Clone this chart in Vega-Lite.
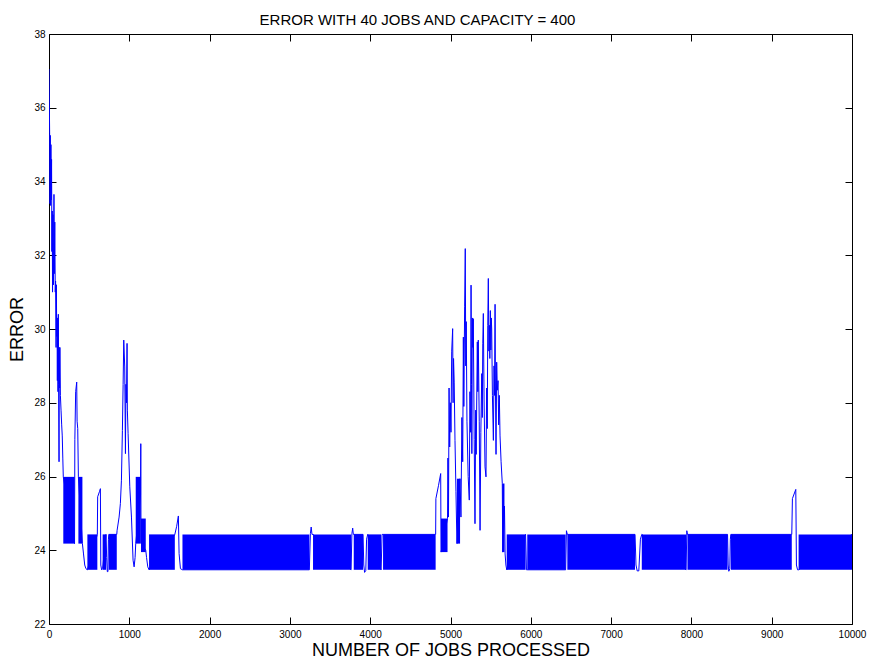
{
  "$schema": "https://vega.github.io/schema/vega-lite/v6.json",
  "autosize": {"type": "none"},
  "padding": {"left": 49, "top": 34, "right": 18, "bottom": 40},
  "width": 803,
  "height": 590,
  "background": "white",
  "title": {
    "text": "ERROR WITH 40 JOBS AND CAPACITY = 400",
    "font": "Liberation Sans",
    "fontSize": 15,
    "fontWeight": "normal",
    "color": "#000",
    "anchor": "middle",
    "dx": -33,
    "offset": 1
  },
  "config": {
    "view": {"stroke": null},
    "axis": {
      "grid": false,
      "domainColor": "#000",
      "domainWidth": 1,
      "tickColor": "#000",
      "tickWidth": 1,
      "tickSize": -7,
      "labelFont": "Liberation Sans",
      "labelFontSize": 10,
      "labelColor": "#000",
      "labelFlush": false,
      "labelOverlap": false,
      "titleFont": "Liberation Sans",
      "titleFontSize": 18,
      "titleFontWeight": "normal",
      "titleColor": "#000"
    }
  },
  "datasets": {
    "bands": [
      {"from": 178, "to": 318, "low": 24.18, "high": 25.99},
      {"from": 366, "to": 416, "low": 24.18, "high": 25.99},
      {"from": 478, "to": 602, "low": 23.47, "high": 24.43},
      {"from": 668, "to": 711, "low": 23.47, "high": 24.43},
      {"from": 745, "to": 844, "low": 23.47, "high": 24.43},
      {"from": 1080, "to": 1143, "low": 24.18, "high": 25.99},
      {"from": 1146, "to": 1205, "low": 23.95, "high": 24.86},
      {"from": 1246, "to": 1567, "low": 23.47, "high": 24.43},
      {"from": 1662, "to": 3242, "low": 23.47, "high": 24.43},
      {"from": 3288, "to": 3762, "low": 23.47, "high": 24.43},
      {"from": 3795, "to": 3911, "low": 23.47, "high": 24.43},
      {"from": 3969, "to": 4136, "low": 23.47, "high": 24.43},
      {"from": 4160, "to": 4815, "low": 23.47, "high": 24.43},
      {"from": 4882, "to": 4963, "low": 23.95, "high": 24.86},
      {"from": 5080, "to": 5119, "low": 24.18, "high": 25.94},
      {"from": 5645, "to": 5672, "low": 23.95, "high": 25.81},
      {"from": 5700, "to": 5935, "low": 23.47, "high": 24.43},
      {"from": 5956, "to": 6434, "low": 23.47, "high": 24.43},
      {"from": 6455, "to": 7298, "low": 23.47, "high": 24.43},
      {"from": 7382, "to": 7934, "low": 23.47, "high": 24.43},
      {"from": 7951, "to": 8450, "low": 23.47, "high": 24.43},
      {"from": 8491, "to": 9250, "low": 23.47, "high": 24.43},
      {"from": 9335, "to": 10000, "low": 23.47, "high": 24.43}
    ],
    "trace": [
      {"jobs": 0, "error": 37.05}, {"jobs": 8, "error": 35.29}, {"jobs": 12, "error": 33.4},
      {"jobs": 16, "error": 35.25}, {"jobs": 20, "error": 33.35}, {"jobs": 24, "error": 35.0},
      {"jobs": 28, "error": 33.5}, {"jobs": 32, "error": 34.6}, {"jobs": 36, "error": 32.1},
      {"jobs": 40, "error": 33.2}, {"jobs": 44, "error": 31.0}, {"jobs": 50, "error": 33.1},
      {"jobs": 56, "error": 31.2}, {"jobs": 62, "error": 33.65}, {"jobs": 66, "error": 31.5},
      {"jobs": 72, "error": 32.9}, {"jobs": 78, "error": 31.0}, {"jobs": 82, "error": 31.3},
      {"jobs": 88, "error": 29.5}, {"jobs": 92, "error": 31.2}, {"jobs": 96, "error": 29.8},
      {"jobs": 100, "error": 30.3}, {"jobs": 104, "error": 28.6}, {"jobs": 108, "error": 30.3},
      {"jobs": 112, "error": 28.3}, {"jobs": 116, "error": 30.4}, {"jobs": 120, "error": 28.5},
      {"jobs": 125, "error": 26.4}, {"jobs": 128, "error": 29.5}, {"jobs": 132, "error": 28.4},
      {"jobs": 136, "error": 29.5}, {"jobs": 142, "error": 28.2}, {"jobs": 150, "error": 27.8},
      {"jobs": 158, "error": 27.4}, {"jobs": 165, "error": 27.1}, {"jobs": 172, "error": 26.5},
      {"jobs": 178, "error": 25.99}, {"jobs": 318, "error": 24.18}, {"jobs": 322, "error": 27.0},
      {"jobs": 332, "error": 28.3}, {"jobs": 345, "error": 28.56}, {"jobs": 350, "error": 27.5},
      {"jobs": 358, "error": 27.3}, {"jobs": 366, "error": 25.99}, {"jobs": 416, "error": 24.18},
      {"jobs": 430, "error": 23.9}, {"jobs": 445, "error": 23.6}, {"jobs": 460, "error": 23.5},
      {"jobs": 478, "error": 23.47}, {"jobs": 602, "error": 24.43}, {"jobs": 606, "error": 25.45},
      {"jobs": 630, "error": 25.6}, {"jobs": 640, "error": 25.67}, {"jobs": 645, "error": 23.6},
      {"jobs": 655, "error": 23.47}, {"jobs": 668, "error": 23.5}, {"jobs": 711, "error": 24.43},
      {"jobs": 718, "error": 23.8}, {"jobs": 726, "error": 23.42}, {"jobs": 734, "error": 23.42},
      {"jobs": 740, "error": 24.3}, {"jobs": 745, "error": 24.43}, {"jobs": 844, "error": 24.43},
      {"jobs": 848, "error": 24.54}, {"jobs": 873, "error": 24.9}, {"jobs": 889, "error": 25.27},
      {"jobs": 902, "error": 25.9}, {"jobs": 914, "error": 27.25}, {"jobs": 923, "error": 28.5},
      {"jobs": 931, "error": 29.7}, {"jobs": 943, "error": 28.97}, {"jobs": 952, "error": 26.62},
      {"jobs": 958, "error": 28.5}, {"jobs": 965, "error": 28.0}, {"jobs": 972, "error": 29.61},
      {"jobs": 976, "error": 27.8}, {"jobs": 985, "error": 27.16}, {"jobs": 1006, "error": 25.72},
      {"jobs": 1027, "error": 24.9}, {"jobs": 1047, "error": 23.73}, {"jobs": 1060, "error": 23.55},
      {"jobs": 1072, "error": 23.8}, {"jobs": 1080, "error": 24.18}, {"jobs": 1140, "error": 25.5},
      {"jobs": 1143, "error": 26.89}, {"jobs": 1146, "error": 24.2}, {"jobs": 1205, "error": 24.0},
      {"jobs": 1215, "error": 23.8}, {"jobs": 1230, "error": 23.55}, {"jobs": 1246, "error": 23.47},
      {"jobs": 1567, "error": 24.43}, {"jobs": 1590, "error": 24.65}, {"jobs": 1611, "error": 24.93},
      {"jobs": 1620, "error": 23.91}, {"jobs": 1637, "error": 23.5}, {"jobs": 1662, "error": 23.47},
      {"jobs": 3242, "error": 23.47}, {"jobs": 3255, "error": 24.45}, {"jobs": 3265, "error": 24.63},
      {"jobs": 3275, "error": 24.43}, {"jobs": 3288, "error": 24.43}, {"jobs": 3762, "error": 23.47},
      {"jobs": 3772, "error": 24.45}, {"jobs": 3782, "error": 24.6}, {"jobs": 3790, "error": 24.43},
      {"jobs": 3795, "error": 24.43}, {"jobs": 3911, "error": 24.43}, {"jobs": 3920, "error": 23.6},
      {"jobs": 3930, "error": 23.4}, {"jobs": 3945, "error": 23.45}, {"jobs": 3955, "error": 24.3},
      {"jobs": 3969, "error": 24.43}, {"jobs": 4136, "error": 23.47}, {"jobs": 4148, "error": 24.43},
      {"jobs": 4160, "error": 24.43}, {"jobs": 4815, "error": 24.43}, {"jobs": 4818, "error": 25.4},
      {"jobs": 4850, "error": 25.75}, {"jobs": 4878, "error": 26.08}, {"jobs": 4882, "error": 23.95},
      {"jobs": 4963, "error": 24.86}, {"jobs": 4968, "error": 26.5}, {"jobs": 4975, "error": 24.9},
      {"jobs": 4982, "error": 28.4}, {"jobs": 4990, "error": 26.8}, {"jobs": 4998, "error": 28.0},
      {"jobs": 5006, "error": 27.2}, {"jobs": 5015, "error": 29.4}, {"jobs": 5027, "error": 30.01},
      {"jobs": 5032, "error": 28.0}, {"jobs": 5038, "error": 29.2}, {"jobs": 5046, "error": 28.56},
      {"jobs": 5056, "error": 26.98}, {"jobs": 5068, "error": 25.6}, {"jobs": 5080, "error": 24.18},
      {"jobs": 5119, "error": 25.94}, {"jobs": 5130, "error": 24.9}, {"jobs": 5142, "error": 27.6},
      {"jobs": 5152, "error": 26.4}, {"jobs": 5160, "error": 29.78}, {"jobs": 5166, "error": 27.9},
      {"jobs": 5176, "error": 30.6}, {"jobs": 5184, "error": 32.18}, {"jobs": 5190, "error": 29.0},
      {"jobs": 5196, "error": 30.2}, {"jobs": 5205, "error": 27.5}, {"jobs": 5220, "error": 26.0},
      {"jobs": 5234, "error": 25.36}, {"jobs": 5242, "error": 28.3}, {"jobs": 5250, "error": 27.2},
      {"jobs": 5256, "error": 31.19}, {"jobs": 5262, "error": 28.5}, {"jobs": 5266, "error": 26.62},
      {"jobs": 5272, "error": 30.3}, {"jobs": 5278, "error": 29.5}, {"jobs": 5284, "error": 30.28},
      {"jobs": 5295, "error": 27.0}, {"jobs": 5305, "error": 24.72}, {"jobs": 5314, "error": 27.8},
      {"jobs": 5320, "error": 26.6}, {"jobs": 5334, "error": 29.65}, {"jobs": 5340, "error": 28.3},
      {"jobs": 5346, "error": 29.7}, {"jobs": 5358, "error": 27.5}, {"jobs": 5368, "error": 24.54},
      {"jobs": 5378, "error": 27.2}, {"jobs": 5389, "error": 28.79}, {"jobs": 5396, "error": 27.6},
      {"jobs": 5402, "error": 29.6}, {"jobs": 5409, "error": 30.42}, {"jobs": 5418, "error": 28.1},
      {"jobs": 5430, "error": 26.26}, {"jobs": 5442, "error": 25.99}, {"jobs": 5450, "error": 28.4},
      {"jobs": 5458, "error": 27.3}, {"jobs": 5464, "error": 30.1}, {"jobs": 5471, "error": 31.37},
      {"jobs": 5478, "error": 29.4}, {"jobs": 5484, "error": 30.1}, {"jobs": 5490, "error": 29.2},
      {"jobs": 5496, "error": 30.5}, {"jobs": 5502, "error": 29.43}, {"jobs": 5508, "error": 30.3},
      {"jobs": 5513, "error": 30.0}, {"jobs": 5522, "error": 28.2}, {"jobs": 5534, "error": 26.98},
      {"jobs": 5542, "error": 29.0}, {"jobs": 5548, "error": 28.2}, {"jobs": 5555, "error": 30.67},
      {"jobs": 5560, "error": 28.4}, {"jobs": 5567, "error": 26.6}, {"jobs": 5575, "error": 29.1},
      {"jobs": 5583, "error": 28.34}, {"jobs": 5592, "error": 28.6}, {"jobs": 5600, "error": 27.4},
      {"jobs": 5608, "error": 28.2}, {"jobs": 5617, "error": 27.1}, {"jobs": 5630, "error": 26.4},
      {"jobs": 5645, "error": 25.81}, {"jobs": 5650, "error": 23.95}, {"jobs": 5672, "error": 25.2},
      {"jobs": 5680, "error": 23.9}, {"jobs": 5690, "error": 23.6}, {"jobs": 5700, "error": 23.47},
      {"jobs": 5935, "error": 24.43}, {"jobs": 5946, "error": 23.47}, {"jobs": 5956, "error": 23.47},
      {"jobs": 6434, "error": 23.47}, {"jobs": 6444, "error": 24.53}, {"jobs": 6455, "error": 24.43},
      {"jobs": 7298, "error": 24.43}, {"jobs": 7310, "error": 23.6}, {"jobs": 7325, "error": 23.44},
      {"jobs": 7345, "error": 23.44}, {"jobs": 7365, "error": 24.3}, {"jobs": 7382, "error": 24.43},
      {"jobs": 7934, "error": 23.47}, {"jobs": 7943, "error": 24.53}, {"jobs": 7951, "error": 24.43},
      {"jobs": 8450, "error": 24.43}, {"jobs": 8458, "error": 23.6}, {"jobs": 8466, "error": 23.43},
      {"jobs": 8478, "error": 23.5}, {"jobs": 8485, "error": 24.3}, {"jobs": 8491, "error": 24.43},
      {"jobs": 9250, "error": 24.43}, {"jobs": 9258, "error": 25.4}, {"jobs": 9300, "error": 25.65},
      {"jobs": 9308, "error": 23.6}, {"jobs": 9322, "error": 23.47}, {"jobs": 9335, "error": 23.47},
      {"jobs": 10000, "error": 24.43}
    ]
  },
  "resolve": {"axis": {"x": "independent", "y": "independent"}},
  "layer": [
    {
      "data": {"name": "bands"},
      "mark": {"type": "rect", "color": "#0000ff", "clip": true},
      "encoding": {
        "x": {
          "field": "from", "type": "quantitative",
          "scale": {"domain": [0, 10000], "nice": false, "zero": false},
          "axis": {
            "title": "NUMBER OF JOBS PROCESSED",
            "orient": "bottom",
            "values": [0, 1000, 2000, 3000, 4000, 5000, 6000, 7000, 8000, 9000, 10000],
            "format": "d",
            "labelPadding": 12,
            "titlePadding": 2
          }
        },
        "x2": {"field": "to"},
        "y": {
          "field": "low", "type": "quantitative",
          "scale": {"domain": [22, 38], "nice": false, "zero": false},
          "axis": {
            "title": "ERROR",
            "orient": "left",
            "values": [22, 24, 26, 28, 30, 32, 34, 36, 38],
            "labelPadding": 11,
            "titlePadding": 7
          }
        },
        "y2": {"field": "high"}
      }
    },
    {
      "data": {"name": "trace"},
      "mark": {"type": "line", "color": "#0000ff", "strokeWidth": 1, "clip": true},
      "encoding": {
        "x": {
          "field": "jobs", "type": "quantitative",
          "axis": {
            "title": null,
            "orient": "top",
            "labels": false,
            "values": [0, 1000, 2000, 3000, 4000, 5000, 6000, 7000, 8000, 9000, 10000]
          }
        },
        "y": {
          "field": "error", "type": "quantitative",
          "axis": {
            "title": null,
            "orient": "right",
            "labels": false,
            "values": [22, 24, 26, 28, 30, 32, 34, 36, 38]
          }
        }
      }
    }
  ]
}
